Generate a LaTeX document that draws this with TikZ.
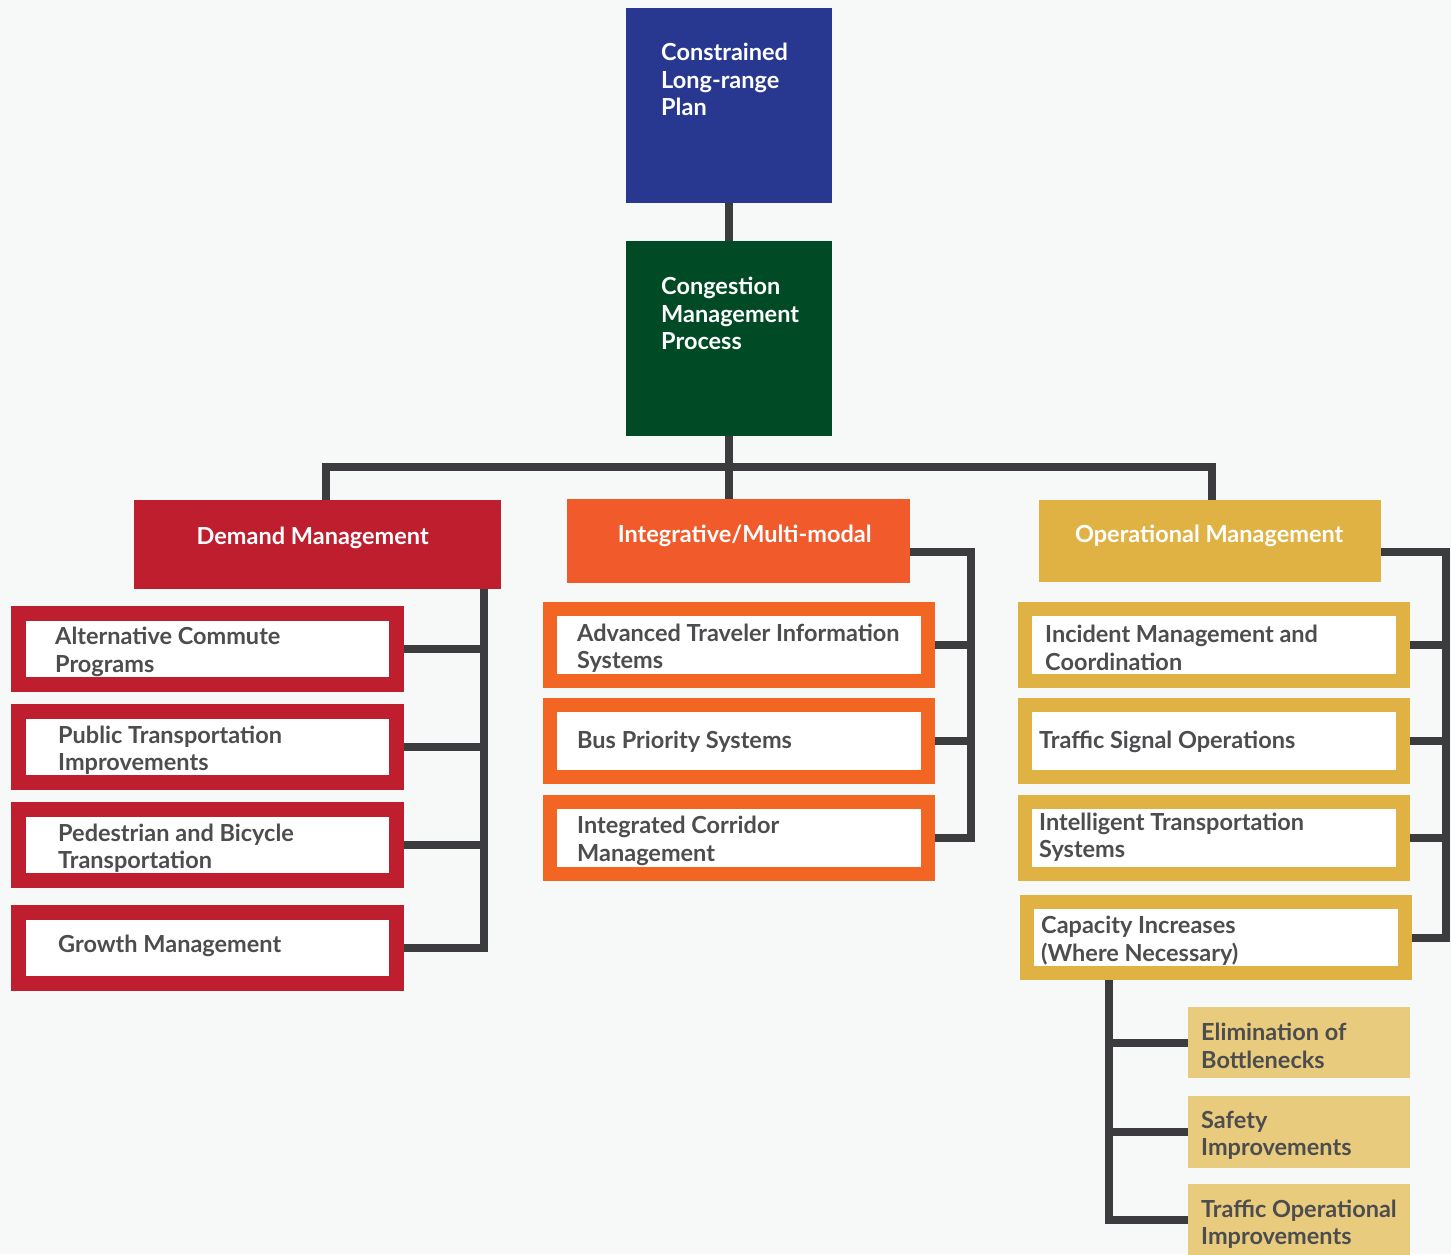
\documentclass[tikz,border=0pt]{standalone}
\usepackage{fontspec}
\setmainfont{Lato}
\usetikzlibrary{positioning,calc}

\definecolor{pagebg}{HTML}{F7F8F8}
\definecolor{planblue}{HTML}{283891}
\definecolor{cmpgreen}{HTML}{004B25}
\definecolor{dmred}{HTML}{BE1E2D}
\definecolor{imorange}{HTML}{F15A2B}
\definecolor{imborder}{HTML}{F26522}
\definecolor{omgold}{HTML}{DFB243}
\definecolor{subgold}{HTML}{E8CB7D}
\definecolor{itemtext}{HTML}{4D4D4F}
\definecolor{linkgray}{HTML}{3C3C3E}

\tikzset{
  conn/.style={draw=linkgray, line width=8pt, line join=miter},
  topbox/.style={fill=#1, anchor=north west, inner sep=0pt, minimum width=206pt, minimum height=195pt},
  headbox/.style={fill=#1, anchor=north west, inner sep=0pt},
  itembox/.style={draw=#1, fill=white, anchor=north west, inner sep=0pt, minimum width=378pt},
  subbox/.style={fill=subgold, anchor=north west, inner sep=0pt, minimum width=222pt},
  boxtxt/.style={font=\bfseries\fontsize{23.5}{27.5}\selectfont, align=left, inner sep=0pt, text=white},
  itemtxt/.style={boxtxt, text=itemtext, anchor=west, yshift=-3pt}
}

\begin{document}
\begin{tikzpicture}[x=1pt, y=-1pt]
    \fill[pagebg] (0,0) rectangle (1451,1254);
    \useasboundingbox (0,0) rectangle (1451,1254);

    % plan and process
    \node[topbox=planblue] (plan) at (626,8) {};
    \node[boxtxt, anchor=north west] (planT) at ([xshift=35pt,yshift=-35pt]plan.north west) {Constrained\\Long-range\\Plan};
    \node[topbox=cmpgreen] (cmp) at (626,241) {};
    \node[boxtxt, anchor=north west] (cmpT) at ([xshift=35pt,yshift=-36pt]cmp.north west) {Congestion\\Management\\Process};

    % the three strategy heads
    \node[headbox=dmred, minimum width=367pt, minimum height=89pt] (demand) at (134,500) {};
    \node[boxtxt, anchor=north] (demandT) at ([xshift=-5pt,yshift=-27pt]demand.north) {Demand Management};
    \node[headbox=imorange, minimum width=343pt, minimum height=84pt] (integ) at (567,499) {};
    \node[boxtxt, anchor=north] (integT) at ([xshift=6pt,yshift=-26pt]integ.north) {Integrative/Multi-modal};
    \node[headbox=omgold, minimum width=342pt, minimum height=82pt] (oper) at (1039,500) {};
    \node[boxtxt, anchor=north] (operT) at ([xshift=-1pt,yshift=-25pt]oper.north) {Operational Management};

    % demand management items
    \node[itembox=dmred, line width=15pt, minimum height=71pt] (dm1) at (11,606) {};
    \node[itemtxt] (dm1T) at ([xshift=44pt]dm1.west) {Alternative Commute\\Programs};
    \node[itembox=dmred, line width=15pt, minimum height=71pt] (dm2) at (11,704) {};
    \node[itemtxt] (dm2T) at ([xshift=47pt]dm2.west) {Public Transportation\\Improvements};
    \node[itembox=dmred, line width=15pt, minimum height=71pt] (dm3) at (11,802) {};
    \node[itemtxt] (dm3T) at ([xshift=47pt]dm3.west) {Pedestrian and Bicycle\\Transportation};
    \node[itembox=dmred, line width=15pt, minimum height=71pt] (dm4) at (11,905) {};
    \node[itemtxt] (dm4T) at ([xshift=47pt,yshift=5pt]dm4.west) {Growth Management};

    % integrative items
    \node[itembox=imborder, line width=14pt, minimum height=72pt] (im1) at (543,602) {};
    \node[itemtxt] (im1T) at ([xshift=34pt]im1.west) {Advanced Traveler Information\\Systems};
    \node[itembox=imborder, line width=14pt, minimum height=72pt] (im2) at (543,698) {};
    \node[itemtxt] (im2T) at ([xshift=34pt,yshift=2pt]im2.west) {Bus Priority Systems};
    \node[itembox=imborder, line width=14pt, minimum height=72pt] (im3) at (543,795) {};
    \node[itemtxt] (im3T) at ([xshift=34pt]im3.west) {Integrated Corridor\\Management};

    % operational items
    \node[itembox=omgold, line width=14pt, minimum height=72pt] (om1) at (1018,602) {};
    \node[itemtxt] (om1T) at ([xshift=27pt]om1.west) {Incident Management and\\Coordination};
    \node[itembox=omgold, line width=14pt, minimum height=72pt] (om2) at (1018,698) {};
    \node[itemtxt] (om2T) at ([xshift=21pt,yshift=2pt]om2.west) {Traffic Signal Operations};
    \node[itembox=omgold, line width=14pt, minimum height=72pt] (om3) at (1018,795) {};
    \node[itemtxt] (om3T) at ([xshift=21pt,yshift=4pt]om3.west) {Intelligent Transportation\\Systems};
    \node[itembox=omgold, line width=14pt, minimum height=71pt] (om4) at (1020,895) {};
    \node[itemtxt] (om4T) at ([xshift=21pt]om4.west) {Capacity Increases\\(Where Necessary)};

    % capacity sub-items
    \node[subbox, minimum height=71pt] (sb1) at (1188,1007) {};
    \node[itemtxt] (sb1T) at ([xshift=13pt]sb1.west) {Elimination of\\Bottlenecks};
    \node[subbox, minimum height=72pt] (sb2) at (1188,1096) {};
    \node[itemtxt] (sb2T) at ([xshift=13pt]sb2.west) {Safety\\Improvements};
    \node[subbox, minimum height=72pt] (sb3) at (1188,1184) {};
    \node[itemtxt] (sb3T) at ([xshift=13pt,yshift=-1pt]sb3.west) {Traffic Operational\\Improvements};

    % connectors
    \coordinate (busL) at (326,467);
    \coordinate (busR) at (1212,467);
    \coordinate (dmSpine) at (484,0);
    \coordinate (imSpine) at (971,0);
    \coordinate (omSpine) at (1446,0);
    \coordinate (sbSpine) at (1109,0);

    \draw[conn] (plan.south) -- (cmp.north);
    \draw[conn] (cmp.south) -- (cmp.south |- busL);
    \draw[conn] (demand.north -| busL) -- (busL) -- (busR) -- (oper.north -| busR);
    \draw[conn] (cmp.south |- busL) -- (integ.north -| cmp.south);

    \draw[conn] (demand.south -| dmSpine) -- (dm4.east -| dmSpine) -- (dm4.east);
    \draw[conn] (dm1.east) -- (dm1.east -| dmSpine);
    \draw[conn] (dm2.east) -- (dm2.east -| dmSpine);
    \draw[conn] (dm3.east) -- (dm3.east -| dmSpine);

    \draw[conn] ([yshift=-11pt]integ.east) -- ([yshift=-11pt]integ.east -| imSpine) -- (im3.east -| imSpine) -- (im3.east);
    \draw[conn] (im1.east) -- (im1.east -| imSpine);
    \draw[conn] (im2.east) -- (im2.east -| imSpine);

    \draw[conn] ([yshift=-11pt]oper.east) -- ([yshift=-11pt]oper.east -| omSpine) -- (om4.east -| omSpine) -- (om4.east);
    \draw[conn] (om1.east) -- (om1.east -| omSpine);
    \draw[conn] (om2.east) -- (om2.east -| omSpine);
    \draw[conn] (om3.east) -- (om3.east -| omSpine);

    \draw[conn] (om4.south -| sbSpine) -- (sb3.west -| sbSpine) -- (sb3.west);
    \draw[conn] (sb1.west -| sbSpine) -- (sb1.west);
    \draw[conn] (sb2.west -| sbSpine) -- (sb2.west);
\end{tikzpicture}
\end{document}
